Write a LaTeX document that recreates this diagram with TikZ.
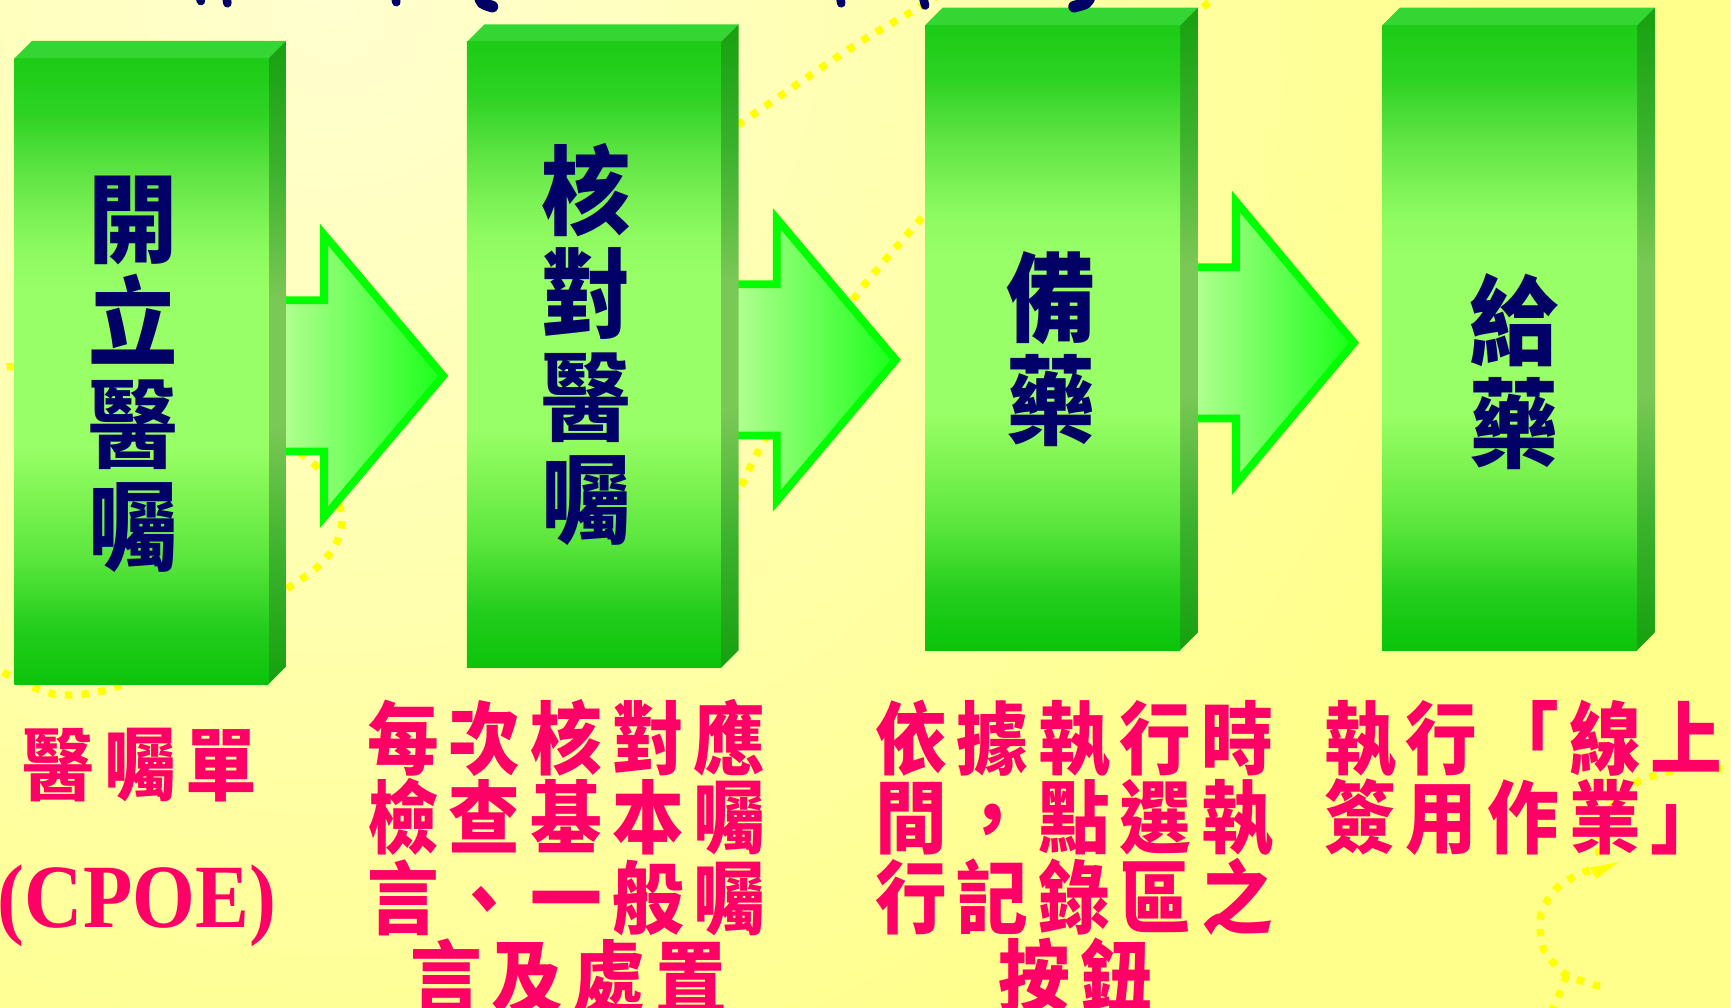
\documentclass[tikz,border=0pt]{standalone}
\usepackage{fontspec}
\usepackage{graphicx}
\newfontfamily\cjkbox{Noto Sans CJK TC}[FakeStretch=0.92]
\newfontfamily\cjksp{Noto Sans CJK TC}[FakeStretch=0.9, LetterSpace=12.5]
\newfontfamily\tnr{Liberation Serif}
\definecolor{bgA}{RGB}{255,255,208}
\definecolor{bgB}{RGB}{255,255,140}
\definecolor{navyt}{RGB}{0,0,102}
\definecolor{pinkt}{RGB}{255,0,102}
\definecolor{topface}{RGB}{51,214,51}
\definecolor{arrowline}{RGB}{0,255,0}
\definecolor{arrL}{RGB}{185,255,150}
\definecolor{arrR}{RGB}{25,255,25}
\definecolor{dotyellow}{RGB}{255,255,0}
\definecolor{fB}{RGB}{10,196,10}
\definecolor{fA}{RGB}{35,205,28}
\definecolor{fC}{RGB}{90,230,60}
\definecolor{fD}{RGB}{130,245,85}
\definecolor{fL}{RGB}{152,255,102}
\definecolor{fE}{RGB}{140,250,95}
\definecolor{fF}{RGB}{100,230,70}
\definecolor{fG}{RGB}{45,210,35}
\definecolor{fT}{RGB}{28,204,22}
\definecolor{sB}{RGB}{22,160,15}
\definecolor{sM}{RGB}{60,178,45}
\definecolor{sL}{RGB}{122,200,85}
\pgfdeclareverticalshading{frontshade}{100bp}{color(0bp)=(fB); color(25bp)=(fB); color(29.5bp)=(fA); color(35bp)=(fC); color(40.5bp)=(fD); color(44bp)=(fL); color(56.5bp)=(fL); color(60bp)=(fE); color(65.4bp)=(fF); color(70.7bp)=(fG); color(75bp)=(fT); color(100bp)=(fT)}
\pgfdeclareverticalshading{sideshade}{100bp}{color(0bp)=(sB); color(25bp)=(sB); color(35bp)=(sM); color(45bp)=(sL); color(55bp)=(sL); color(65bp)=(sM); color(75bp)=(sB); color(100bp)=(sB)}
\tikzset{
  dotline/.style={draw=dotyellow, line width=1.9pt, dash pattern=on 1.9pt off 2.4pt},
  blockarrow/.style={draw=arrowline, line width=2pt, left color=arrL, right color=arrR},
  boxtxt/.style={font=\cjkbox\bfseries\fontsize{25}{26.5}\selectfont, text=navyt, align=center, inner sep=0pt},
  steptxt/.style={font=\cjksp\bfseries\fontsize{20.5}{22}\selectfont, text=pinkt, inner sep=0pt, anchor=base},
  frag/.style={draw=navyt, line width=2.2pt, line cap=round}
}
\newcommand\greenbox[5]{%
  \fill[topface] (#1,#2) -- (#1+16,#2-16) -- (#3+16,#2-16) -- (#3,#2) -- cycle;
  \shade[shading=sideshade] (#3,#2) -- (#3+16,#2-16) -- (#3+16,#4-16) -- (#3,#4) -- cycle;
  \shade[shading=frontshade] (#1,#2) rectangle (#3,#4);
  \coordinate (#5) at ({(#1+#3)/2},{(#2+#4)/2});
}
\newcommand\blockarr[4]{% start x, head x, tip x, center y
  \path[blockarrow] (#1,#4-68.5) -- (#2,#4-68.5) -- (#2,#4-128) -- (#3,#4) -- (#2,#4+128) -- (#2,#4+68.5) -- (#1,#4+68.5) -- cycle;
}
\begin{document}
\begin{tikzpicture}[x=0.01cm,y=-0.01cm]
\useasboundingbox (0,0) rectangle (1568,913);
\clip (0,0) rectangle (1568,913);
% background
\fill[bgB] (0,0) rectangle (1568,913);
\shade[inner color=bgA, outer color=bgB] (300,0) circle (1100);
% decorative dotted curves
\draw[dotline] plot[smooth] coordinates {(-20,346) (12,332) (150,345) (235,372) (262,402) (292,428) (308,460) (309,478) (302,497) (285,516) (262,532) (180,590) (100,624) (51,629) (12,614) (-15,597)};
\draw[dotline] plot[smooth] coordinates {(630,138) (670,112) (773,42) (840,2) (880,-25)};
\draw[dotline] plot[smooth] coordinates {(650,480) (670,443) (690,403) (735,330) (776,267) (838,194) (870,162)};
\draw[dotline] plot[smooth] coordinates {(1078,16) (1094,3) (1108,-8)};
\draw[dotline] plot[smooth] coordinates {(1590,701) (1564,697) (1531,695) (1501,702) (1484,708) (1462,728) (1450,755) (1448,776)};
\fill[dotyellow] (1440,786) -- (1466,781) -- (1446,796) -- cycle;
\draw[dotline] plot[smooth] coordinates {(1440,788) (1428,793) (1413,802) (1404,812) (1396,827) (1395,842) (1398,859) (1407,872) (1419,883) (1443,892) (1457,894)};
\draw[dotline] plot[smooth] coordinates {(1419,883) (1414,897) (1408,910) (1404,920)};
% arrows
\blockarr{250}{293.5}{401.5}{340.5}
\blockarr{660}{703.5}{811.5}{326}
\blockarr{1075}{1119.5}{1226.5}{310.5}
% boxes
\greenbox{13}{53}{243}{620}{b1}
\greenbox{423}{38}{653}{605}{b2}
\greenbox{838}{23}{1069}{589}{b3}
\greenbox{1252}{23}{1483}{589}{b4}
% box texts
\node[boxtxt] (n1) at (121,339) {開\\立\\醫\\囑};
\node[boxtxt] (n2) at (531,312) {核\\對\\醫\\囑};
\node[boxtxt] (n3) at (952,316) {備\\藥};
\node[boxtxt] (n4) at (1372,337) {給\\藥};
% captions
\node[steptxt] (c1a) at (127,720) {醫囑單};
\node[anchor=base, inner sep=0pt, text=pinkt, font=\tnr\bfseries\fontsize{20.8}{22}\selectfont] (c1b) at (124,840) {\scalebox{1}[1.12]{(CPOE)}};
\node[steptxt] (c2a) at (513,696) {每次核對應};
\node[steptxt] (c2b) at (513,768) {檢查基本囑};
\node[steptxt] (c2c) at (513,841) {言、一般囑};
\node[steptxt] (c2d) at (515,913) {言及處置};
\node[steptxt] (c3a) at (973,696) {依據執行時};
\node[steptxt] (c3b) at (973,768) {間，點選執};
\node[steptxt] (c3c) at (973,840) {行記錄區之};
\node[steptxt] (c3d) at (974,912) {按鈕};
\node[steptxt, anchor=base west] (c4a) at (1199,696) {執行「線上};
\node[steptxt, anchor=base west] (c4b) at (1199,768) {簽用作業」};
% fragments of the cut-off title
\draw[frag] (181,-3) -- (182,1);
\draw[frag] (205,-3) -- (206,3);
\draw[frag] (358,-3) -- (359,2);
\draw[frag, line width=3pt] (434,-5) .. controls (436,3) .. (446,6);
\draw[frag] (761,-3) -- (762,3);
\draw[frag] (836,-3) -- (838,5);
\draw[frag, line width=3pt] (988,-5) .. controls (985,3) .. (973,6);
\end{tikzpicture}
\end{document}
